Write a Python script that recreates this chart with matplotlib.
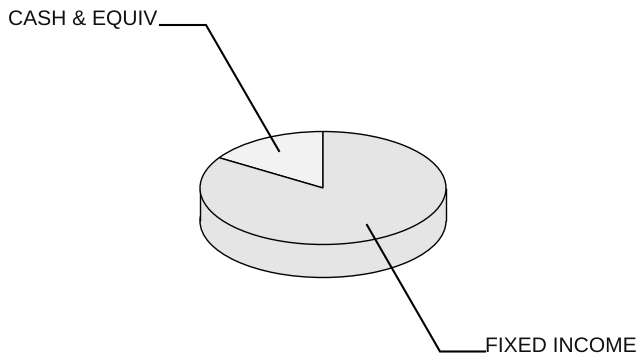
import matplotlib
matplotlib.use("Agg")
import matplotlib.pyplot as plt
from matplotlib.patches import Rectangle

labels = ["CASH & EQUIV", "FIXED INCOME"]
shares = [16, 84]
colors = ["#f2f2f2", "#e5e5e5"]

W, H = 637, 358
# pie size in pixels, y axis gets squashed so the circle turns into an ellipse
cx, cy = 323, H - 188
rx, ry = 123, 56.5
depth = 33
sq = rx / ry

plt.rcParams["font.family"] = ["Liberation Sans", "DejaVu Sans"]
plt.rcParams["text.hinting"] = "no_hinting"
plt.rcParams["text.hinting_factor"] = 1

fig = plt.figure(figsize=(W / 100, H / 100), dpi=100)
ax = fig.add_axes([0, 0, 1, 1])

edge = dict(edgecolor="black", linewidth=1.0)

# bottom of the disc, then the side wall, then the top
ax.pie([1], colors=[colors[1]], startangle=90, radius=rx,
       center=(cx, (cy - depth) * sq), wedgeprops=edge)
ax.add_patch(Rectangle((cx - rx, (cy - depth) * sq), 2 * rx, depth * sq,
                       facecolor=colors[1], edgecolor="none", zorder=1.5))
ax.plot([cx - rx, cx - rx], [(cy - depth) * sq, cy * sq], color="black", lw=1.0, zorder=1.6,
        solid_capstyle="butt")
ax.plot([cx + rx, cx + rx], [(cy - depth) * sq, cy * sq], color="black", lw=1.0, zorder=1.6,
        solid_capstyle="butt")
wedges, _ = ax.pie(shares, colors=colors, startangle=90, radius=rx,
                   center=(cx, cy * sq), wedgeprops=edge)
for w in wedges:
    w.set_zorder(2)

ax.set_aspect("auto")
ax.set_xlim(0, W)
ax.set_ylim(0, H * sq)
ax.axis("off")

# leader lines
ax.plot([160, 206, 279], [(H - 25) * sq, (H - 25) * sq, (H - 151) * sq],
        color="black", lw=1.5, zorder=3, solid_joinstyle="miter")
ax.plot([367, 440, 485], [(H - 225) * sq, (H - 351.5) * sq, (H - 351.5) * sq],
        color="black", lw=1.5, zorder=3, solid_joinstyle="miter")

ax.text(8, (H - 25) * sq, labels[0], fontsize=15.2, color="#111111", ha="left", va="baseline")
ax.text(485, (H - 351.5) * sq, labels[1], fontsize=15.2, color="#111111", ha="left", va="baseline")

fig.savefig("out.png", dpi=100)
